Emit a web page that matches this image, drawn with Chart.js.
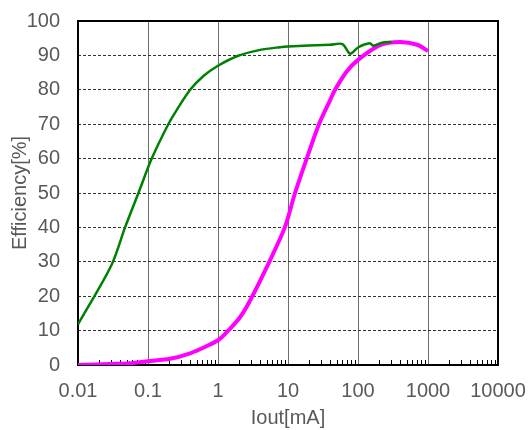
<!DOCTYPE html>
<html lang="en">
<head>
  <meta charset="UTF-8">
  <title>Efficiency vs Iout</title>
  <script src="https://cdn.jsdelivr.net/npm/chart.js"></script>
  <style>
    body { margin: 0; background: #fff; }
    #wrap { width: 530px; height: 430px; }
  </style>
</head>
<body>
  <div id="wrap"><canvas id="effChart" width="530" height="430"></canvas></div>

  <script>
    // decade labels on the log axis
    const xTickLabels = ['0.01', '0.1', '1', '10', '100', '1000', '10000'];
    const decades = [0.01, 0.1, 1, 10, 100, 1000, 10000];

    // green curve
    const greenX = [0.01, 0.03, 0.047, 0.073, 0.113, 0.195, 0.257, 0.4, 0.62, 1, 1.95, 4, 7.7, 10, 40, 60, 77, 100, 148, 166, 220, 300];
    const greenY = [11.8, 29, 40, 50, 60, 70, 74.1, 80, 84, 87, 89.9, 91.6, 92.4, 92.6, 93.1, 93.3, 90.5, 92.3, 93.5, 92.8, 93.7, 93.9];

    // magenta curve
    const magentaX = [0.01, 0.03, 0.055, 0.1, 0.206, 0.4, 0.69, 1, 1.26, 2.05, 2.9, 5.4, 9, 12.6, 18.5, 27.7, 40, 47, 69, 100, 206, 400, 700, 1000];
    const magentaY = [0, 0.3, 0.5, 1.1, 1.8, 3.4, 5.5, 7.2, 9, 13.8, 18.9, 30, 40, 50, 60, 70, 77, 80, 85.3, 88.7, 93, 93.9, 93.1, 91.3];

    const toPoints = (xs, ys) => xs.map((x, i) => ({ x: x, y: ys[i] }));

    // all tick positions 1..9 x 10^n between first and last decade
    const allTicks = [];
    decades.forEach((d, i) => {
      if (i === decades.length - 1) { allTicks.push(d); return; }
      for (let k = 1; k <= 9; k++) allTicks.push(+(d * k).toPrecision(3));
    });
    const isDecade = v => decades.some(d => Math.abs(d - v) < d * 1e-6);

    // frame around the plot + short inward minor ticks on the bottom axis
    const framePlugin = {
      id: 'frame',
      beforeDatasetsDraw(chart) {
        const { ctx, chartArea: a, scales: { x } } = chart;
        ctx.save();
        ctx.strokeStyle = '#000';
        ctx.lineWidth = 1;
        allTicks.forEach(v => {
          if (isDecade(v)) return;
          const px = Math.round(x.getPixelForValue(v)) + 0.5;
          ctx.beginPath();
          ctx.moveTo(px, a.bottom);
          ctx.lineTo(px, a.bottom - 5);
          ctx.stroke();
        });
        ctx.lineWidth = 2;
        ctx.strokeRect(a.left, a.top, a.right - a.left, a.bottom - a.top);
        ctx.restore();
      }
    };

    const ctx = document.getElementById('effChart').getContext('2d');
    new Chart(ctx, {
      type: 'scatter',
      data: {
        datasets: [{
          label: 'green',
          data: toPoints(greenX, greenY),
          borderColor: '#008000',
          borderWidth: 2.5,
          showLine: true,
          pointRadius: 0,
          tension: 0.3
        }, {
          label: 'magenta',
          data: toPoints(magentaX, magentaY),
          borderColor: '#ff00ff',
          borderWidth: 4,
          showLine: true,
          pointRadius: 0,
          tension: 0.3
        }]
      },
      options: {
        responsive: false,
        animation: false,
        layout: { padding: { left: 8, top: 21, right: 32, bottom: 0 } },
        plugins: {
          legend: { display: false },
          tooltip: { enabled: false }
        },
        scales: {
          x: {
            type: 'logarithmic',
            min: 0.01,
            max: 10000,
            afterBuildTicks: scale => { scale.ticks = allTicks.map(v => ({ value: v, major: isDecade(v) })); },
            afterFit: scale => {
              scale.height = 65;
              scale.paddingLeft = 0;
              scale.paddingRight = 0;
            },
            ticks: {
              autoSkip: false,
              maxRotation: 0,
              padding: 14,
              color: '#595959',
              font: { family: 'Liberation Sans, Arial', size: 20 },
              callback: (v) => {
                const i = decades.findIndex(d => Math.abs(d - v) < d * 1e-6);
                return i >= 0 ? xTickLabels[i] : '';
              }
            },
            grid: {
              drawTicks: false,
              color: c => (c.tick && isDecade(c.tick.value)) ? '#6e6e6e' : 'rgba(0,0,0,0)',
              lineWidth: 1
            },
            border: { display: false },
            title: {
              display: true,
              text: 'Iout[mA]',
              color: '#595959',
              font: { family: 'Liberation Sans, Arial', size: 20 },
              padding: { top: 2, bottom: 0 }
            }
          },
          y: {
            min: 0,
            max: 100,
            afterFit: scale => {
              scale.width = 70;
              scale.paddingTop = 0;
              scale.paddingBottom = 0;
            },
            ticks: {
              stepSize: 10,
              padding: 18,
              color: '#595959',
              font: { family: 'Liberation Sans, Arial', size: 20 }
            },
            grid: {
              drawTicks: false,
              color: '#333',
              lineWidth: 1
            },
            border: { display: false, dash: [3, 2] },
            title: {
              display: true,
              text: 'Efficiency[%]',
              color: '#595959',
              font: { family: 'Liberation Sans, Arial', size: 20 },
              padding: { top: 0, bottom: 0 }
            }
          }
        }
      },
      plugins: [framePlugin]
    });
  </script>
</body>
</html>
